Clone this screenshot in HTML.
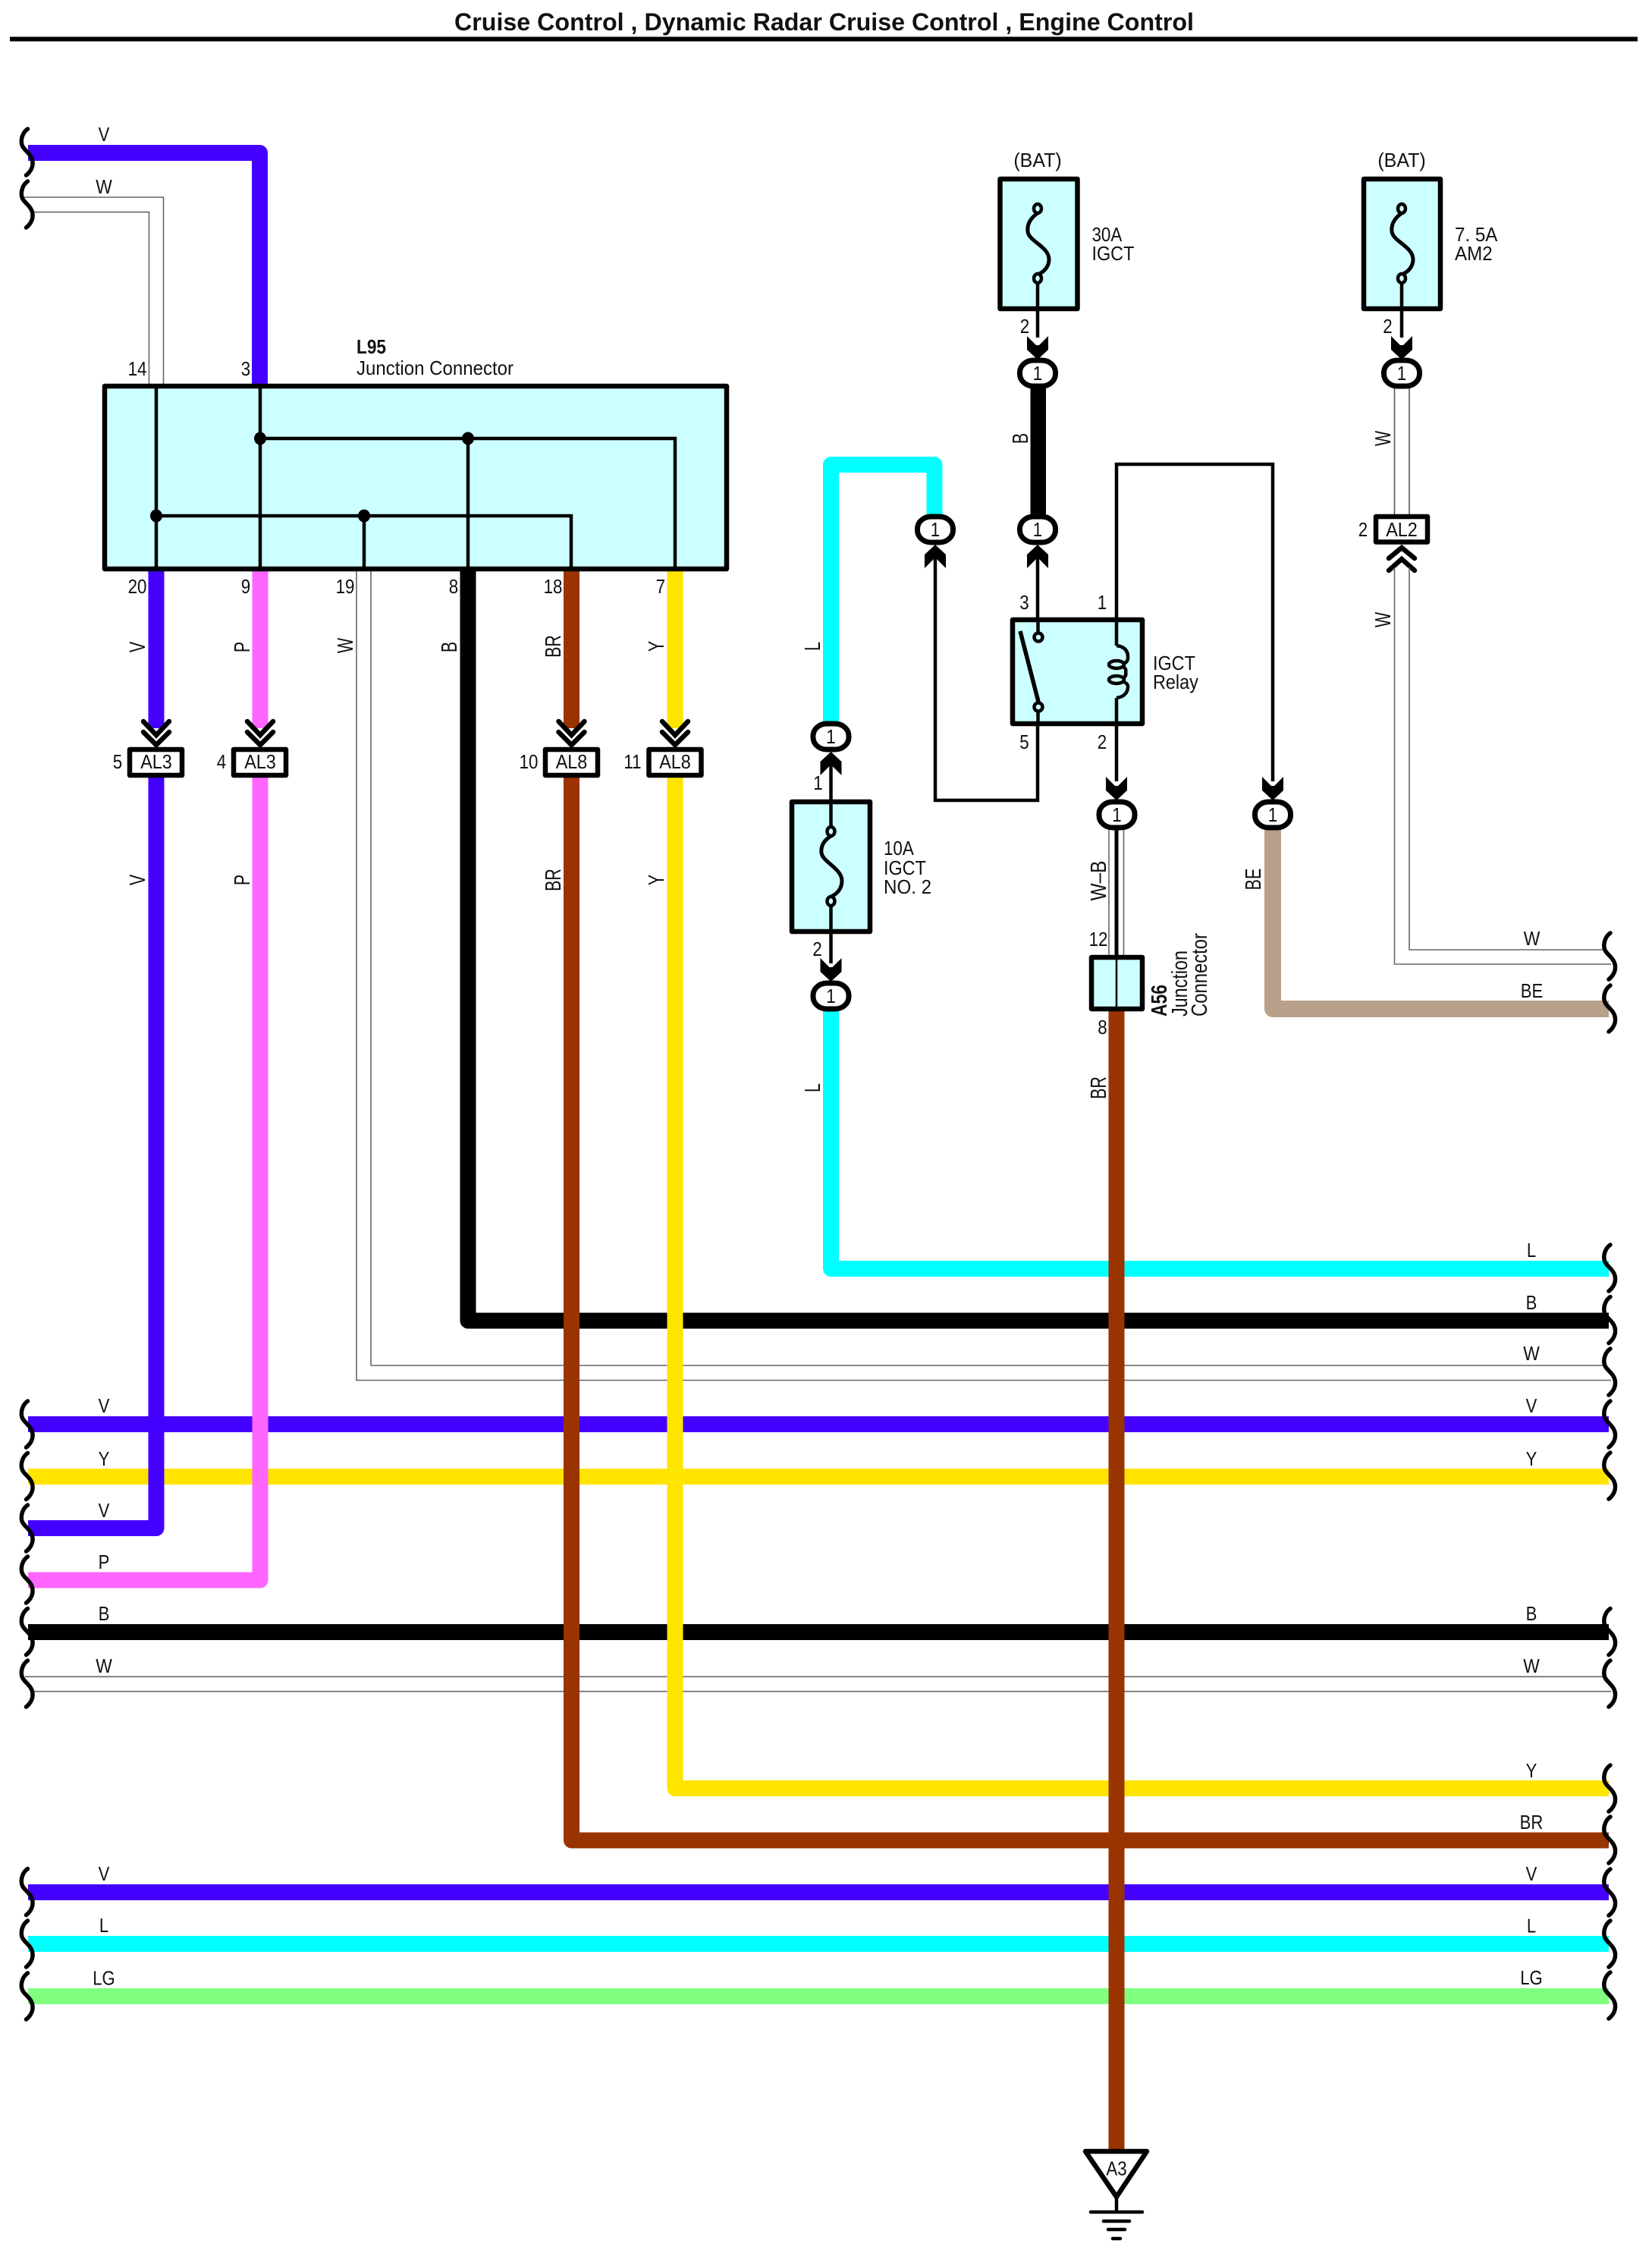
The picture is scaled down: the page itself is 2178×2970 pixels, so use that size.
<!DOCTYPE html>
<html><head><meta charset="utf-8"><title>Cruise Control Wiring Diagram</title>
<style>
html,body{margin:0;padding:0;background:#fff}
svg{display:block}
text{font-family:"Liberation Sans",sans-serif;font-size:26px;fill:#111}
.m{text-anchor:middle}
.r{font-size:29px;text-anchor:middle}
.w{fill:none;stroke-width:21;stroke-linejoin:round}
.t{fill:none;stroke:#666;stroke-width:1.6}
.k{fill:none;stroke:#000;stroke-width:4.5}
.b{fill:#ccffff;stroke:#000;stroke-width:6.5;stroke-linejoin:round}
.c{fill:#fff;stroke:#000;stroke-width:6.5;stroke-linejoin:round}
</style></head><body>
<svg xmlns="http://www.w3.org/2000/svg" width="2178" height="2970" viewBox="0 0 2178 2970">
<defs>
<path id="s" d="M10 2C4 6 1 14 2 21C3 30 16 34 16.500 46C17 53 13 59 8 63" fill="none" stroke="#000" stroke-width="5.500" stroke-linecap="round"/>
<polygon id="ad" points="-14,-31 -2,-19 2,-19 14,-31 14,-13 0,0 -14,-13" fill="#000"/>
<g id="cd" fill="none" stroke="#000" stroke-width="6.500" stroke-linecap="round"><path d="M-17 -33L0 -15L17 -33"/><path d="M-17 -19L0 -2L17 -19"/></g>
<rect id="n" x="-23.500" y="-17" width="47" height="34" rx="18" ry="16" fill="#fff" stroke="#000" stroke-width="7"/>
</defs>
<rect width="2178" height="2970" fill="#fff"/>

<text x="599" y="40" textLength="975" lengthAdjust="spacingAndGlyphs" style="font-size:32.5px;font-weight:bold">Cruise Control , Dynamic Radar Cruise Control , Engine Control</text>
<rect x="13" y="48.500" width="2146" height="6" fill="#000"/>

<!-- horizontal wires -->
<path class="w" stroke="#00ffff" d="M1095.500 1330V1672.500H2121"/>
<path class="t" d="M489 752V1800H2113M470 752V1819.500H2124"/>
<path class="w" stroke="#000" d="M617 752V1741H2121"/>
<path class="w" stroke="#4400ff" d="M37 1877.500H2121"/>
<path class="w" stroke="#ffe400" d="M37 1946.500H2121"/>
<path class="w" stroke="#000" d="M37 2151.500H2121"/>
<path class="t" d="M33 2210.300H2113M43 2229.700H2124"/>
<path class="w" stroke="#4400ff" d="M37 2494.500H2121"/>
<path class="w" stroke="#00ffff" d="M37 2562.500H2121"/>
<path class="w" stroke="#80ff80" d="M37 2631.500H2121"/>

<!-- verticals on top -->
<path class="w" stroke="#4400ff" d="M206 752V960"/>
<path class="w" stroke="#4400ff" d="M206 1025V2014.500H37"/>
<path class="w" stroke="#ff66ff" d="M343 752V960"/>
<path class="w" stroke="#ff66ff" d="M343 1025V2083H37"/>
<path class="w" stroke="#ffe400" d="M890 752V960"/>
<path class="w" stroke="#ffe400" d="M890 1025V2357.500H2121"/>
<path class="w" stroke="#993300" d="M753.500 752V960"/>
<path class="w" stroke="#993300" d="M753.500 1025V2426H2121"/>
<path class="w" stroke="#993300" d="M1472 1333V2834"/>

<!-- top left -->
<path class="w" stroke="#4400ff" d="M37 201.500H342.500V510"/>
<path class="t" d="M30 260H215.500V507M40 279.600H196.500V507"/>

<!-- L95 -->
<rect class="b" x="138" y="509" width="820" height="241"/>
<path class="k" d="M206 509V750M343 509V750M480 680V750M617 578V750M753 680V750M890 578V750M343 578H890V750M206 680H753V750"/>
<g fill="#000"><ellipse cx="343" cy="578" rx="8" ry="8.500"/><ellipse cx="617" cy="578" rx="8" ry="8.500"/><ellipse cx="206" cy="680" rx="8" ry="8.500"/><ellipse cx="480" cy="680" rx="8" ry="8.500"/></g>
<text x="470" y="466" textLength="39" lengthAdjust="spacingAndGlyphs" style="font-weight:bold">L95</text>
<text x="470" y="494" textLength="207" lengthAdjust="spacingAndGlyphs">Junction Connector</text>

<g class="m">
<text class="m" transform="translate(181,495) scale(.86,1)">14</text>
<text class="m" transform="translate(324,495) scale(.86,1)">3</text>
<text class="m" transform="translate(181,782) scale(.86,1)">20</text>
<text class="m" transform="translate(324,782) scale(.86,1)">9</text>
<text class="m" transform="translate(455,782) scale(.86,1)">19</text>
<text class="m" transform="translate(598,782) scale(.86,1)">8</text>
<text class="m" transform="translate(729,782) scale(.86,1)">18</text>
<text class="m" transform="translate(871,782) scale(.86,1)">7</text>
</g>

<!-- rotated wire labels -->
<text class="r" transform="translate(191,853) rotate(-90) scale(.74,1)">V</text>
<text class="r" transform="translate(329,853) rotate(-90) scale(.74,1)">P</text>
<text class="r" transform="translate(465,851) rotate(-90) scale(.74,1)">W</text>
<text class="r" transform="translate(602,853) rotate(-90) scale(.74,1)">B</text>
<text class="r" transform="translate(739,852) rotate(-90) scale(.74,1)">BR</text>
<text class="r" transform="translate(875,852) rotate(-90) scale(.74,1)">Y</text>
<text class="r" transform="translate(191,1160) rotate(-90) scale(.74,1)">V</text>
<text class="r" transform="translate(329,1160) rotate(-90) scale(.74,1)">P</text>
<text class="r" transform="translate(739,1160) rotate(-90) scale(.74,1)">BR</text>
<text class="r" transform="translate(875,1160) rotate(-90) scale(.74,1)">Y</text>

<!-- AL connectors -->
<use href="#cd" transform="translate(206,984)"/><use href="#cd" transform="translate(343,984)"/><use href="#cd" transform="translate(753.500,984)"/><use href="#cd" transform="translate(890,984)"/>
<rect class="c" x="171" y="988" width="69" height="34"/>
<rect class="c" x="308" y="988" width="69" height="34"/>
<rect class="c" x="719" y="988" width="69" height="34"/>
<rect class="c" x="855.500" y="988" width="69" height="34"/>
<text class="m" transform="translate(206,1013) scale(.9,1)">AL3</text>
<text class="m" transform="translate(343,1013) scale(.9,1)">AL3</text>
<text class="m" transform="translate(753.500,1013) scale(.9,1)">AL8</text>
<text class="m" transform="translate(890,1013) scale(.9,1)">AL8</text>
<text class="m" transform="translate(155,1013) scale(.86,1)">5</text>
<text class="m" transform="translate(292,1013) scale(.86,1)">4</text>
<text class="m" transform="translate(697,1013) scale(.86,1)">10</text>
<text class="m" transform="translate(834,1013) scale(.86,1)">11</text>

<!-- cyan loop -->
<path class="w" stroke="#00ffff" d="M1095.500 955V612.500H1232V680"/>
<text class="r" transform="translate(1081,852) rotate(-90) scale(.74,1)">L</text>
<text class="r" transform="translate(1081,1434) rotate(-90) scale(.74,1)">L</text>

<!-- 30A fuse -->
<text class="m" transform="translate(1368,220) scale(.96,1)">(BAT)</text>
<rect class="b" x="1318.500" y="236" width="102" height="171"/>
<path class="k" d="M1368 372V445"/>
<path fill="none" stroke="#000" stroke-width="5" d="M1368 281C1358 288 1354 296 1355 305C1356 318 1383 325 1383 342C1383 350 1378 358 1368 362"/>
<ellipse cx="1368" cy="275" rx="5" ry="6" fill="#ccffff" stroke="#000" stroke-width="4.500"/>
<ellipse cx="1368" cy="367" rx="5" ry="6" fill="#ccffff" stroke="#000" stroke-width="4.500"/>
<text transform="translate(1439.500,318) scale(.86,1)">30A</text>
<text transform="translate(1439.500,343) scale(.9,1)">IGCT</text>
<text class="m" transform="translate(1351,439) scale(.86,1)">2</text>
<use href="#ad" transform="translate(1368,474)"/>

<!-- B wire -->
<rect x="1358.500" y="510" width="20.500" height="170" fill="#000"/>
<text class="r" transform="translate(1355,578) rotate(-90) scale(.74,1)">B</text>

<!-- nodes 1 -->
<use href="#n" x="1368" y="492"/><text class="m" transform="translate(1368,501) scale(.86,1)">1</text>
<use href="#n" x="1368" y="698"/><text class="m" transform="translate(1368,707) scale(.86,1)">1</text>
<use href="#n" x="1233" y="698"/><text class="m" transform="translate(1233,707) scale(.86,1)">1</text>

<!-- pin arrows and wires near relay -->
<path class="k" d="M1368 735V818M1233 735V1055H1368V945"/>
<use href="#ad" transform="translate(1368,718) scale(1,-1)"/>
<use href="#ad" transform="translate(1233,718) scale(1,-1)"/>
<path class="k" d="M1472 851V612H1678V1030M1472 920V1030"/>

<!-- relay -->
<rect class="b" x="1335" y="817" width="171" height="137"/>
<path class="k" d="M1368.500 817V834M1368.500 938V954M1472 814V851M1472 920V957"/>
<path d="M1345 832L1369 925" stroke="#000" stroke-width="5.500" fill="none"/>
<ellipse cx="1369" cy="840" rx="5.500" ry="5.500" fill="#ccffff" stroke="#000" stroke-width="4.500"/>
<ellipse cx="1369" cy="932" rx="5.500" ry="5.500" fill="#ccffff" stroke="#000" stroke-width="4.500"/>
<path fill="none" stroke="#000" stroke-width="4.500" d="M1472 851Q1488 853 1487 868Q1486 875 1476 876M1476 877Q1486 880 1484 886Q1486 893 1476 896M1476 897Q1488 900 1487 906Q1486 918 1472 920"/>
<ellipse cx="1472" cy="876" rx="10" ry="5" fill="#ccffff" stroke="#000" stroke-width="4.500"/>
<ellipse cx="1472" cy="896" rx="10" ry="5" fill="#ccffff" stroke="#000" stroke-width="4.500"/>
<text transform="translate(1520,883) scale(.9,1)">IGCT</text>
<text transform="translate(1520,908) scale(.9,1)">Relay</text>
<text class="m" transform="translate(1350.500,803) scale(.86,1)">3</text>
<text class="m" transform="translate(1453,803) scale(.86,1)">1</text>
<text class="m" transform="translate(1350.500,987) scale(.86,1)">5</text>
<text class="m" transform="translate(1453,987) scale(.86,1)">2</text>

<!-- 10A fuse -->
<use href="#n" x="1095.500" y="971"/><text class="m" transform="translate(1095.500,980) scale(.86,1)">1</text>
<use href="#ad" transform="translate(1095.500,991) scale(1,-1)"/>
<path class="k" d="M1095.500 1010V1056M1095.500 1228V1270"/>
<rect class="b" x="1044" y="1057" width="103" height="171"/>
<path class="k" d="M1095.500 1057V1090M1095.500 1194V1228"/>
<path fill="none" stroke="#000" stroke-width="5" d="M1095.500 1102C1086 1108 1082 1115 1083 1124C1084 1136 1110 1145 1110 1161C1110 1170 1105 1178 1095.500 1182"/>
<ellipse cx="1095.500" cy="1096" rx="5" ry="6" fill="#ccffff" stroke="#000" stroke-width="4.500"/>
<ellipse cx="1095.500" cy="1188" rx="5" ry="6" fill="#ccffff" stroke="#000" stroke-width="4.500"/>
<use href="#ad" transform="translate(1095.500,1294)"/>
<use href="#n" x="1095.500" y="1313"/><text class="m" transform="translate(1095.500,1322) scale(.86,1)">1</text>
<text transform="translate(1165,1127) scale(.86,1)">10A</text>
<text transform="translate(1165,1153) scale(.9,1)">IGCT</text>
<text transform="translate(1165,1178) scale(.93,1)">NO. 2</text>
<text class="m" transform="translate(1078.500,1041) scale(.86,1)">1</text>
<text class="m" transform="translate(1077.500,1260) scale(.86,1)">2</text>

<!-- A56 branch -->
<use href="#ad" transform="translate(1472,1055)"/>
<use href="#n" x="1472.500" y="1074"/><text class="m" transform="translate(1472.500,1083) scale(.86,1)">1</text>
<path class="t" d="M1462 1094V1260M1481.500 1094V1260"/>
<rect x="1469.500" y="1094" width="5" height="166" fill="#000"/>
<rect class="b" x="1439" y="1262" width="67" height="68"/>
<path d="M1472 1262V1330" stroke="#000" stroke-width="2.500"/>
<text class="r" transform="translate(1458,1161) rotate(-90) scale(.84,1)">W–B</text>
<text class="m" transform="translate(1448,1247) scale(.86,1)">12</text>
<text class="m" transform="translate(1453.500,1363) scale(.86,1)">8</text>
<text class="r" transform="translate(1458,1434) rotate(-90) scale(.74,1)">BR</text>
<text transform="translate(1538,1340) rotate(-90)" textLength="42" lengthAdjust="spacingAndGlyphs" style="font-size:29px;font-weight:bold">A56</text>
<text transform="translate(1565,1340) rotate(-90)" textLength="87" lengthAdjust="spacingAndGlyphs" style="font-size:29px">Junction</text>
<text transform="translate(1591,1340) rotate(-90)" textLength="110" lengthAdjust="spacingAndGlyphs" style="font-size:29px">Connector</text>

<!-- BE -->
<use href="#ad" transform="translate(1678,1055)"/>
<path class="w" stroke="#b8a08a" d="M1678 1092V1330H2121" style="stroke-width:22"/>
<use href="#n" x="1678" y="1074"/><text class="m" transform="translate(1678,1083) scale(.86,1)">1</text>
<text class="r" transform="translate(1662,1159) rotate(-90) scale(.74,1)">BE</text>

<!-- 7.5A fuse + W -->
<text class="m" transform="translate(1848,220) scale(.96,1)">(BAT)</text>
<rect class="b" x="1798" y="236" width="101" height="171"/>
<path class="k" d="M1848 372V445"/>
<path fill="none" stroke="#000" stroke-width="5" d="M1848 281C1838 288 1834 296 1835 305C1836 318 1863 325 1863 342C1863 350 1858 358 1848 362"/>
<ellipse cx="1848" cy="275" rx="5" ry="6" fill="#ccffff" stroke="#000" stroke-width="4.500"/>
<ellipse cx="1848" cy="367" rx="5" ry="6" fill="#ccffff" stroke="#000" stroke-width="4.500"/>
<text transform="translate(1918,318) scale(.93,1)">7. 5A</text>
<text transform="translate(1918,343) scale(.93,1)">AM2</text>
<text class="m" transform="translate(1829.500,439) scale(.86,1)">2</text>
<use href="#ad" transform="translate(1848,474)"/>
<use href="#n" x="1848" y="492"/><text class="m" transform="translate(1848,501) scale(.86,1)">1</text>
<path d="M1838.500 512V680M1858 512V680" fill="none" stroke="#555" stroke-width="1.600"/>
<text class="r" transform="translate(1833,578) rotate(-90) scale(.74,1)">W</text>
<rect class="c" x="1814" y="681" width="68" height="33.500"/>
<text class="m" transform="translate(1848,707) scale(.9,1)">AL2</text>
<text class="m" transform="translate(1797,707) scale(.86,1)">2</text>
<g fill="none" stroke="#000" stroke-width="6.500" stroke-linecap="round"><path d="M1831 736L1848 722L1865 736"/><path d="M1831 752L1848 737L1865 752"/></g>
<path class="t" d="M1838.500 748V1271H2124M1858 748V1252H2113"/>
<text class="r" transform="translate(1833,817) rotate(-90) scale(.74,1)">W</text>

<!-- ground -->
<path d="M1431 2836H1512L1472 2896Z" fill="#fff" stroke="#000" stroke-width="6.500" stroke-linejoin="round"/>
<text class="m" transform="translate(1472,2867.500) scale(.86,1)">A3</text>
<path d="M1472 2898V2916" stroke="#000" stroke-width="4.500"/>
<g stroke="#000" stroke-width="4.500" stroke-linecap="round"><path d="M1438 2916H1506M1455 2928H1489M1461 2939H1483M1467 2951H1477"/></g>

<!-- wire labels left -->
<text class="m" transform="translate(137,186) scale(.85,1)">V</text>
<text class="m" transform="translate(137,255) scale(.88,1)">W</text>
<text class="m" transform="translate(137,1862) scale(.85,1)">V</text>
<text class="m" transform="translate(137,1932) scale(.85,1)">Y</text>
<text class="m" transform="translate(137,2000) scale(.85,1)">V</text>
<text class="m" transform="translate(137,2068) scale(.85,1)">P</text>
<text class="m" transform="translate(137,2136) scale(.85,1)">B</text>
<text class="m" transform="translate(137,2205) scale(.88,1)">W</text>
<text class="m" transform="translate(137,2479) scale(.85,1)">V</text>
<text class="m" transform="translate(137,2547) scale(.85,1)">L</text>
<text class="m" transform="translate(137,2616.500) scale(.85,1)">LG</text>

<!-- wire labels right -->
<text class="m" transform="translate(2019.500,1246) scale(.88,1)">W</text>
<text class="m" transform="translate(2019.500,1315) scale(.85,1)">BE</text>
<text class="m" transform="translate(2019,1657) scale(.85,1)">L</text>
<text class="m" transform="translate(2019,1726) scale(.85,1)">B</text>
<text class="m" transform="translate(2019,1793) scale(.88,1)">W</text>
<text class="m" transform="translate(2019,1862) scale(.85,1)">V</text>
<text class="m" transform="translate(2019,1932) scale(.85,1)">Y</text>
<text class="m" transform="translate(2019,2205) scale(.88,1)">W</text>
<text class="m" transform="translate(2019,2136) scale(.85,1)">B</text>
<text class="m" transform="translate(2019,2343) scale(.85,1)">Y</text>
<text class="m" transform="translate(2019,2411) scale(.85,1)">BR</text>
<text class="m" transform="translate(2019,2479) scale(.85,1)">V</text>
<text class="m" transform="translate(2019,2547.500) scale(.85,1)">L</text>
<text class="m" transform="translate(2019,2616) scale(.85,1)">LG</text>

<!-- squiggles left -->
<use href="#s" x="26.500" y="168"/><use href="#s" x="26.500" y="237"/>
<use href="#s" x="26.500" y="1845"/><use href="#s" x="26.500" y="1913.500"/><use href="#s" x="26.500" y="1982"/><use href="#s" x="26.500" y="2050"/><use href="#s" x="26.500" y="2118.500"/><use href="#s" x="26.500" y="2187"/>
<use href="#s" x="26.500" y="2461.500"/><use href="#s" x="26.500" y="2530"/><use href="#s" x="26.500" y="2599"/>
<!-- squiggles right -->
<use href="#s" x="2113" y="1228"/><use href="#s" x="2113" y="1297"/>
<use href="#s" x="2113" y="1639"/><use href="#s" x="2113" y="1707.500"/><use href="#s" x="2113" y="1776"/><use href="#s" x="2113" y="1845"/><use href="#s" x="2113" y="1913"/>
<use href="#s" x="2113" y="2118.500"/><use href="#s" x="2113" y="2187"/>
<use href="#s" x="2113" y="2325"/><use href="#s" x="2113" y="2393"/><use href="#s" x="2113" y="2462"/><use href="#s" x="2113" y="2530"/><use href="#s" x="2113" y="2598"/>
</svg>
</body></html>
